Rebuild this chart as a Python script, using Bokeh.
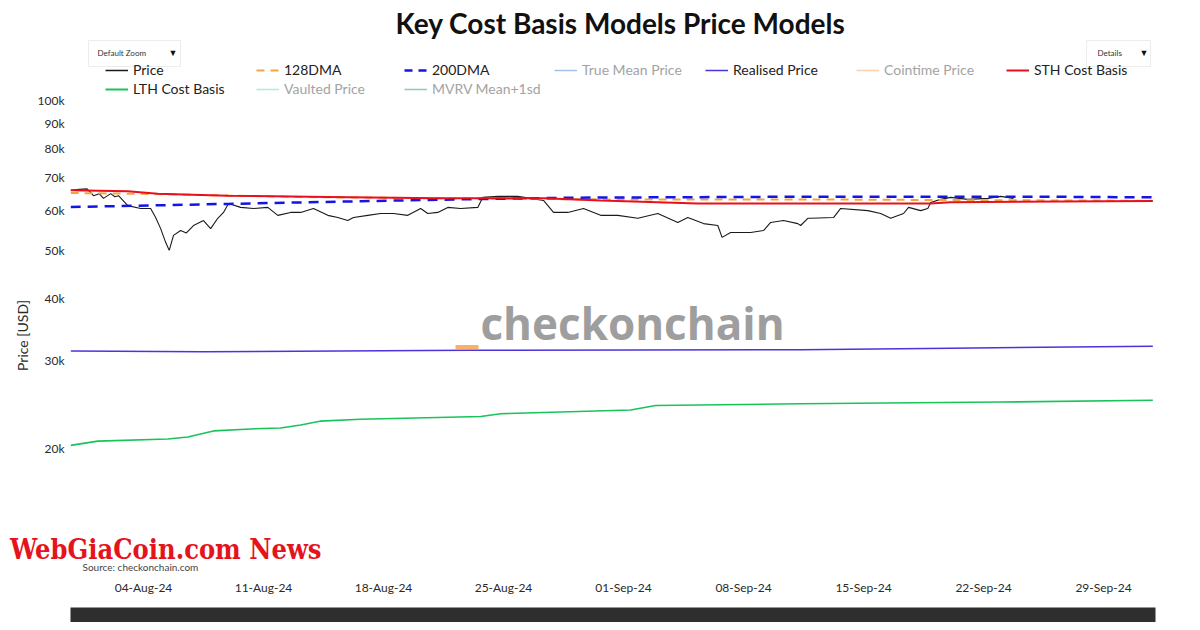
import pandas as pd
from bokeh.plotting import figure
from bokeh.models import (Range1d, FixedTicker, NumeralTickFormatter, DatetimeTickFormatter,
                          Legend, LegendItem, Label, Div)
from bokeh.layouts import column
from bokeh.embed import file_html
from bokeh.resources import INLINE

# ---------------- data ----------------
price_dates = ["2024-07-30 18:00", "2024-07-31 06:00", "2024-07-31 17:00", "2024-08-01 02:00",
               "2024-08-01 10:00", "2024-08-01 16:00", "2024-08-02 02:00", "2024-08-02 08:00",
               "2024-08-02 13:00", "2024-08-03 02:00", "2024-08-03 20:00",
               "2024-08-04 10:00", "2024-08-04 17:00", "2024-08-05 00:00", "2024-08-05 07:00",
               "2024-08-05 12:00", "2024-08-05 18:00", "2024-08-06 04:00", "2024-08-06 12:00",
               "2024-08-06 22:00", "2024-08-07 12:00", "2024-08-07 22:00", "2024-08-08 08:00",
               "2024-08-08 16:00", "2024-08-08 23:00", "2024-08-09 16:00", "2024-08-10 10:00",
               "2024-08-11 06:00", "2024-08-11 20:00", "2024-08-12 14:00", "2024-08-13 04:00",
               "2024-08-13 22:00", "2024-08-14 18:00", "2024-08-15 08:00", "2024-08-15 22:00",
               "2024-08-16 06:00", "2024-08-17 02:00", "2024-08-17 20:00", "2024-08-18 14:00",
               "2024-08-19 10:00", "2024-08-20 04:00", "2024-08-20 14:00", "2024-08-21 04:00",
               "2024-08-21 18:00", "2024-08-22 12:00", "2024-08-23 12:00", "2024-08-23 19:00",
               "2024-08-24 16:00", "2024-08-25 20:00", "2024-08-26 14:00", "2024-08-27 08:00",
               "2024-08-27 22:00", "2024-08-28 18:00", "2024-08-29 16:00", "2024-08-30 16:00",
               "2024-08-31 16:00", "2024-09-01 20:00", "2024-09-03 00:00", "2024-09-04 04:00",
               "2024-09-04 18:00", "2024-09-05 16:00", "2024-09-06 12:00", "2024-09-06 18:00",
               "2024-09-07 06:00", "2024-09-08 10:00", "2024-09-09 04:00", "2024-09-09 14:00",
               "2024-09-10 08:00", "2024-09-11 04:00", "2024-09-11 08:00", "2024-09-11 18:00",
               "2024-09-11 22:00", "2024-09-13 06:00", "2024-09-13 16:00", "2024-09-15 06:00",
               "2024-09-16 00:00", "2024-09-16 14:00", "2024-09-17 08:00", "2024-09-17 15:00",
               "2024-09-18 08:00", "2024-09-18 18:00", "2024-09-18 22:00", "2024-09-19 12:00",
               "2024-09-20 02:00", "2024-09-21 02:00", "2024-09-22 06:00", "2024-09-23 00:00",
               "2024-09-23 18:00"]
price_values = [66000, 66300, 66470, 64400, 65000, 63600, 65000, 64100,
                64400, 61500, 60700,
                60700, 58200, 55300, 51900,
                50000, 53600, 54800, 54200,
                56100, 57400, 55300, 58000,
                59600, 62100, 61000, 60700,
                61000, 58800, 59600, 59600,
                60700, 58800, 58200, 57400,
                58200, 58800, 59300, 59300,
                58800, 60700, 59300, 59600,
                61000, 60700, 61000, 63900,
                64200, 64200, 63600, 63000,
                59600, 59600, 60700, 58800,
                58800, 58000, 59300, 56900,
                58200, 56600, 56100, 53100,
                54300, 54300, 54800, 56900,
                57400, 56600, 56100, 58000,
                58000, 58200, 60700, 60100,
                59300, 58000, 59300, 61000,
                60100, 60700, 62400, 63300,
                63900, 63300, 63600, 64200,
                63600]

dma128_dates = ["2024-07-30 18:00", "2024-08-04 10:00", "2024-08-13 04:00", "2024-08-21 18:00",
                "2024-08-30 16:00", "2024-09-11 08:00", "2024-09-20 02:00", "2024-10-01 21:00"]
dma128_values = [65200, 64900, 64000, 63600, 63300, 63300, 63100, 62900]

dma200_dates = ["2024-07-30 18:00", "2024-08-08 22:00", "2024-08-21 04:00", "2024-08-29 00:00",
                "2024-09-11 18:00", "2024-09-25 00:00", "2024-10-01 21:00"]
dma200_values = [61100, 62000, 63200, 63800, 64100, 64100, 63900]

realised_dates = ["2024-07-30 18:00", "2024-08-07 12:00", "2024-08-23 00:00", "2024-09-11 08:00",
                  "2024-09-20 02:00", "2024-10-01 21:00"]
realised_values = [31400, 31300, 31500, 31600, 31800, 32100]

sth_dates = ["2024-07-30 18:00", "2024-08-03 02:00", "2024-08-04 20:00", "2024-08-08 22:00",
             "2024-08-14 18:00", "2024-08-21 04:00", "2024-08-27 08:00", "2024-08-30 16:00",
             "2024-09-05 08:00", "2024-09-18 22:00", "2024-09-20 02:00", "2024-10-01 21:00"]
sth_values = [66000, 65700, 65000, 64400, 64000, 63600, 63600, 63000, 62100, 62100, 62500, 62800]

lth_dates = ["2024-07-30 18:00", "2024-08-01 08:00", "2024-08-05 10:00", "2024-08-06 14:00",
             "2024-08-08 02:00", "2024-08-10 06:00", "2024-08-12 00:00", "2024-08-13 04:00",
             "2024-08-14 07:00", "2024-08-16 16:00", "2024-08-23 16:00", "2024-08-24 20:00",
             "2024-09-01 10:00", "2024-09-02 21:00", "2024-09-11 08:00", "2024-09-23 00:00",
             "2024-10-01 21:00"]
lth_values = [20300, 20700, 20900, 21100, 21700, 21900, 22000, 22300,
              22700, 22900, 23200, 23500, 23900, 24400, 24600, 24800, 25000]

x_tick_dates = ["2024-08-04", "2024-08-11", "2024-08-18", "2024-08-25", "2024-09-01",
                "2024-09-08", "2024-09-15", "2024-09-22", "2024-09-29"]
y_tick_values = [20000, 30000, 40000, 50000, 60000, 70000, 80000, 90000, 100000]

x_start, x_end = "2024-07-30 17:48", "2024-10-02 00:45"
y_start, y_end = 11120, 102340


def dt(lst):
    return pd.to_datetime(lst)


FONT = "Lato"
W, H = 1184, 600
BL, BR = 70, 29

# ---------------- main chart ----------------
p = figure(width=W, height=H, x_axis_type="datetime", y_axis_type="log",
           output_backend="svg", toolbar_location=None,
           x_range=Range1d(pd.Timestamp(x_start).to_pydatetime(), pd.Timestamp(x_end).to_pydatetime()),
           y_range=Range1d(y_start, y_end),
           min_border_left=BL, min_border_right=BR, min_border_top=95, min_border_bottom=25)
p.outline_line_color = None
p.grid.visible = False
p.background_fill_color = "white"
p.border_fill_color = "white"

p.xaxis.ticker = FixedTicker(ticks=[pd.Timestamp(d).value // 10**6 for d in x_tick_dates])
fmt = "%d-%b-%y"
p.xaxis.formatter = DatetimeTickFormatter(microseconds=fmt, milliseconds=fmt, seconds=fmt,
                                          minsec=fmt, minutes=fmt, hourmin=fmt, hours=fmt,
                                          days=fmt, months=fmt, years=fmt)
p.yaxis.ticker = FixedTicker(ticks=y_tick_values)
p.yaxis.formatter = NumeralTickFormatter(format="0a")
for ax in (p.xaxis[0], p.yaxis[0]):
    ax.axis_line_color = None
    ax.major_tick_line_color = None
    ax.minor_tick_line_color = None
    ax.major_tick_out = 0
    ax.major_tick_in = 0
    ax.minor_tick_out = 0
    ax.major_label_text_font = FONT
    ax.major_label_text_font_size = "12px"
    ax.major_label_text_color = "#2a2a2a"
p.xaxis.major_label_standoff = 4
p.yaxis.major_label_standoff = 6
p.yaxis.axis_label = "Price [USD]"
p.yaxis.axis_label_text_font = FONT
p.yaxis.axis_label_text_font_size = "14px"
p.yaxis.axis_label_text_font_style = "normal"
p.yaxis.axis_label_text_color = "#2a2a2a"
p.yaxis.axis_label_standoff = 4

p.line(dt(price_dates), price_values, line_color="#1a1a1a", line_width=1.1)
p.line(dt(dma128_dates), dma128_values, line_color="#f5a340", line_width=2, line_dash="8 6")
p.line(dt(dma200_dates), dma200_values, line_color="#1414e6", line_width=2.5, line_dash="10 7")
p.line(dt(realised_dates), realised_values, line_color="#4b33dd", line_width=1.5)
p.line(dt(sth_dates), sth_values, line_color="#e8101e", line_width=2)
p.line(dt(lth_dates), lth_values, line_color="#19c35a", line_width=1.6)

# ---------------- overlay for title, legend and notes (pixel coordinates) ----------------
o = figure(width=W, height=H, output_backend="svg", toolbar_location=None,
           x_range=Range1d(BL, W - BR), y_range=Range1d(H, 0),
           x_axis_location=None, y_axis_location=None,
           min_border_left=BL, min_border_right=BR, min_border_top=0,
           min_border_bottom=0, margin=(-H, 0, 0, 0))
o.grid.visible = False
o.outline_line_color = None
o.background_fill_alpha = 0
o.border_fill_alpha = 0

# dropdown boxes
o.quad(left=[88, 1086], right=[180, 1150], top=[40, 40], bottom=[66, 66],
       fill_color="white", line_color="#ececec", line_width=1)

ACTIVE, INACTIVE = "#222222", "#a3a3a3"
legend_specs = [
    ("Price", "#1a1a1a", 1.5, None, 1.0, 105, 70, ACTIVE),
    ("128DMA", "#f5a340", 2, "8 6", 1.0, 256, 70, ACTIVE),
    ("200DMA", "#1414e6", 2.5, "8 6", 1.0, 404, 70, ACTIVE),
    ("True Mean Price", "#4a7fd6", 1.5, None, 0.5, 554, 70, INACTIVE),
    ("Realised Price", "#4b33dd", 1.5, None, 1.0, 705, 70, ACTIVE),
    ("Cointime Price", "#f5a35c", 1.5, None, 0.5, 856, 70, INACTIVE),
    ("STH Cost Basis", "#e8101e", 2, None, 1.0, 1006, 70, ACTIVE),
    ("LTH Cost Basis", "#19c35a", 2, None, 1.0, 105, 89, ACTIVE),
    ("Vaulted Price", "#5fd8b5", 1.5, None, 0.5, 256, 89, INACTIVE),
    ("MVRV Mean+1sd", "#1f9a55", 1.5, None, 0.5, 404, 89, INACTIVE),
]
IH = 16
nan = float("nan")
for lab, col, lw, dash, alpha, lx, ly, tcol in legend_specs:
    kw = dict(line_color=col, line_width=lw, line_alpha=alpha)
    if dash:
        kw["line_dash"] = dash
    r = o.line(x=[nan, nan], y=[nan, nan], **kw)
    lg = Legend(items=[LegendItem(label=lab, renderers=[r])],
                location=(lx - BL, H - (ly + IH / 2)),
                orientation="horizontal", padding=0, margin=0, spacing=0,
                border_line_color=None, background_fill_alpha=0,
                glyph_width=23, glyph_height=IH, label_height=IH, label_standoff=5,
                label_text_font=FONT, label_text_font_size="14px", label_text_color=tcol)
    o.add_layout(lg)


def note(text, x, y, size, color, font=FONT, style="normal", align="left"):
    o.add_layout(Label(x=x, y=y, text=text, text_font=font, text_font_size=size,
                       text_color=color, text_font_style=style, text_align=align,
                       text_baseline="middle"))


note("Key Cost Basis Models Price Models", 620, 22, "28px", "#111111", style="bold", align="center")
note("Default Zoom", 97, 52, "8px", "#333333")
note("\u25bc", 168, 52, "9px", "#111111")
note("Details", 1097, 52, "8px", "#333333")
note("\u25bc", 1139, 52, "9px", "#111111")
note("checkonchain", 480, 322, "44px", "#9e9e9e", font="Open Sans", style="bold")
o.quad(left=[455], right=[478], top=[344.5], bottom=[348.5], fill_color="#f6b26b", line_color=None)
note("Source: checkonchain.com", 82, 566, "10px", "#444444")

# red site stamp (HTML text, sits partly over the left border)
stamp = Div(text='<span style="font-family:\'DejaVu Serif Condensed\',\'DejaVu Serif\',serif;'
                 'font-weight:bold;font-size:27px;line-height:34px;color:#e5141c;'
                 'white-space:nowrap;">WebGiaCoin.com News</span>',
            width=340, height=34, margin=(-67, 0, 33, 10))

# ---------------- range slider strip ----------------
s = figure(width=W, height=22, output_backend="svg", toolbar_location=None,
           x_range=p.x_range, y_range=Range1d(0, 1),
           x_axis_location=None, y_axis_location=None,
           min_border_left=BL, min_border_right=BR, min_border_top=7, min_border_bottom=0)
s.grid.visible = False
s.outline_line_color = None
s.background_fill_color = "#2e2e2e"
s.border_fill_color = "white"

layout = column(p, o, stamp, s, spacing=0)
open("out.html", "w").write(file_html(layout, INLINE))
